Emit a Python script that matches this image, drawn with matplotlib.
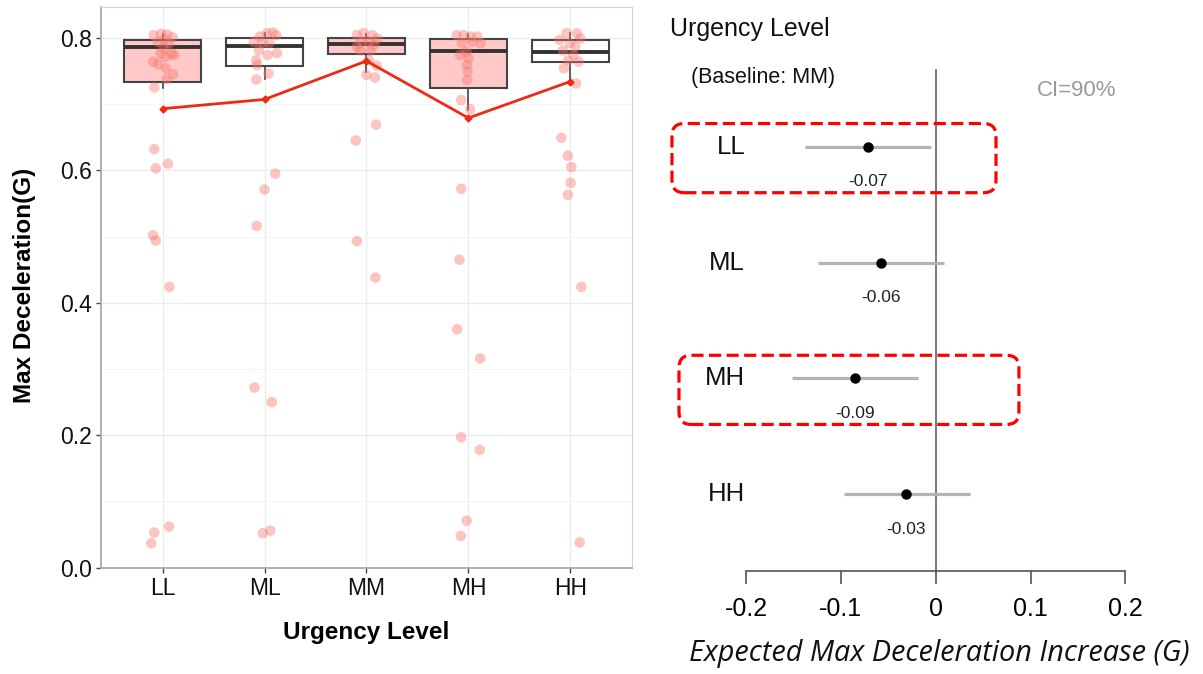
import numpy as np
import matplotlib
matplotlib.use("Agg")
import matplotlib.pyplot as plt
from matplotlib.patches import FancyBboxPatch

plt.rcParams['font.family'] = ['Liberation Sans', 'DejaVu Sans']

# ---- left panel data: max deceleration by urgency level ----
levels = ['LL', 'ML', 'MM', 'MH', 'HH']
q1 = [0.733, 0.758, 0.775, 0.725, 0.764]
med = [0.786, 0.787, 0.791, 0.780, 0.779]
q3 = [0.797, 0.799, 0.799, 0.798, 0.797]
whis_lo = [0.724, 0.738, 0.748, 0.691, 0.734]
whis_hi = [0.806, 0.808, 0.806, 0.806, 0.807]
means = [0.693, 0.707, 0.765, 0.679, 0.734]

ll_vals = [0.804, 0.806, 0.805, 0.801, 0.797, 0.794, 0.792, 0.784, 0.776, 0.774, 0.776, 0.771, 0.764,
           0.760, 0.754, 0.745, 0.738, 0.725, 0.632, 0.603, 0.610, 0.502, 0.494, 0.424, 0.062, 0.053, 0.037]
ll_jit = [-0.088, -0.013, 0.047, 0.098, 0.013, -0.047, 0.064, 0.013, 0.088, 0.115, -0.020, 0.030, -0.094,
          -0.044, 0.030, 0.105, 0.040, -0.081, -0.081, -0.067, 0.054, -0.094, -0.067, 0.067, 0.064, -0.081, -0.111]
ml_vals = [0.808, 0.807, 0.804, 0.802, 0.794, 0.792, 0.792, 0.781, 0.777, 0.774, 0.766, 0.759, 0.746,
           0.737, 0.595, 0.571, 0.516, 0.272, 0.250, 0.056, 0.052]
ml_jit = [0.081, 0.024, 0.115, -0.044, -0.105, -0.020, 0.047, -0.054, 0.122, 0.030, -0.081, -0.071, 0.040,
          -0.081, 0.105, 0.0, -0.078, -0.098, 0.071, 0.057, -0.017]
mm_vals = [0.807, 0.804, 0.804, 0.799, 0.794, 0.794, 0.789, 0.787, 0.781, 0.781, 0.766, 0.758, 0.744,
           0.740, 0.669, 0.645, 0.493, 0.438]
mm_jit = [-0.027, -0.094, 0.057, 0.108, -0.044, 0.024, 0.074, -0.094, -0.061, 0.040, 0.024, 0.101, 0.0,
          0.084, 0.095, -0.105, -0.094, 0.088]
mh_vals = [0.804, 0.804, 0.802, 0.802, 0.794, 0.792, 0.792, 0.779, 0.774, 0.769, 0.759, 0.749, 0.736,
           0.706, 0.692, 0.572, 0.465, 0.360, 0.316, 0.197, 0.178, 0.071, 0.048]
mh_jit = [-0.115, -0.047, 0.020, 0.088, 0.037, -0.064, 0.122, -0.020, -0.081, 0.003, -0.013, -0.007, -0.013,
          -0.071, 0.017, -0.070, -0.088, -0.111, 0.115, -0.071, 0.111, -0.017, -0.074]
hh_vals = [0.807, 0.807, 0.799, 0.797, 0.792, 0.787, 0.781, 0.774, 0.766, 0.764, 0.754, 0.731, 0.649,
           0.622, 0.605, 0.581, 0.563, 0.424, 0.038]
hh_jit = [-0.037, 0.064, 0.098, -0.105, -0.003, 0.047, -0.071, 0.030, -0.020, 0.081, -0.064, 0.057, -0.088,
          -0.024, 0.010, 0.003, -0.024, 0.108, 0.091]

# ---- right panel data: estimated effect vs baseline MM ----
contrast = ['LL', 'ML', 'MH', 'HH']
est = [-0.0716, -0.058, -0.085, -0.031]
ci_lo = [-0.138, -0.124, -0.152, -0.097]
ci_hi = [-0.005, 0.009, -0.019, 0.036]
est_labels = ['-0.07', '-0.06', '-0.09', '-0.03']
highlighted = ['LL', 'MH']

W, H = 1203, 674
fig = plt.figure(figsize=(W / 100, H / 100), dpi=100)

# ================= left: box + jitter =================
ax = fig.add_axes([101.4 / W, (H - 567.7) / H, 530.1 / W, (567.7 - 6.7) / H])
pos = np.arange(1, len(levels) + 1)
stats = [dict(med=m, q1=a, q3=b, whislo=lo, whishi=hi)
         for m, a, b, lo, hi in zip(med, q1, q3, whis_lo, whis_hi)]
bp = ax.bxp(stats, positions=pos, widths=0.75, patch_artist=True,
            showfliers=False, showcaps=False,
            boxprops=dict(edgecolor='#444444', linewidth=1.5),
            medianprops=dict(color='#333333', linewidth=2.8),
            whiskerprops=dict(color='#444444', linewidth=1.2))
fills = ['#FFC9C9', 'white', '#FFC9C9', '#FFC9C9', 'white']
for patch, c in zip(bp['boxes'], fills):
    patch.set_facecolor(c)
    patch.set_zorder(2)

groups = [(ll_vals, ll_jit), (ml_vals, ml_jit), (mm_vals, mm_jit), (mh_vals, mh_jit), (hh_vals, hh_jit)]
for i, (vals, jit) in enumerate(groups):
    ax.scatter(pos[i] + np.array(jit), vals, s=58, color='#F8766D', alpha=0.42,
               edgecolors='none', zorder=3)

ax.plot(pos, means, color='#EE2A14', linewidth=2, marker='D', markersize=3.5, zorder=4)

ax.set_xlim(0.4, 5.6)
ax.set_ylim(0, 0.847)
ax.set_xticks(pos)
ax.set_xticklabels(levels)
ax.set_yticks([0, 0.2, 0.4, 0.6, 0.8])
ax.set_yticklabels(['0.0', '0.2', '0.4', '0.6', '0.8'])
ax.set_yticks([0.1, 0.3, 0.5, 0.7], minor=True)
ax.grid(True, which='major', color='#EBEBEB', linewidth=0.9)
ax.grid(True, which='minor', axis='y', color='#F3F3F3', linewidth=0.6)
ax.set_axisbelow(True)
ax.tick_params(axis='both', which='major', length=3.5, width=1, color='#444444',
               labelsize=16.5, labelcolor='#111111', pad=3)
ax.tick_params(axis='y', which='minor', length=0)
for s in ['top', 'right']:
    ax.spines[s].set_color('#D3D3D3')
for s in ['left', 'bottom']:
    ax.spines[s].set_color('#AAAAAA')
    ax.spines[s].set_linewidth(1.3)

fig.text(24.5 / W, 1 - 285 / H, 'Max Deceleration(G)', rotation=90, ha='center', va='center',
         fontsize=17.5, fontweight='bold')
fig.text(366 / W, 1 - 633 / H, 'Urgency Level', ha='center', va='center',
         fontsize=17.5, fontweight='bold')

# ================= right: effect estimates =================
ax2 = fig.add_axes([660 / W, (H - 570.7) / H, (W - 660) / W, 570.7 / H])
ax2.set_xlim((660 - 935.7) / 948, (W - 935.7) / 948)
ax2.set_ylim(0.341, 5.266)
ax2.patch.set_visible(False)
for s in ['top', 'right', 'left']:
    ax2.spines[s].set_visible(False)
ax2.spines['bottom'].set_bounds(-0.2, 0.2)
ax2.spines['bottom'].set_color('#555555')
ax2.spines['bottom'].set_linewidth(1.2)
ax2.set_xticks([-0.2, -0.1, 0, 0.1, 0.2])
ax2.set_xticklabels(['-0.2', '-0.1', '0', '0.1', '0.2'])
ax2.set_yticks([])
ax2.tick_params(axis='x', length=9, width=1.2, color='#555555', labelsize=18, pad=10)

rows = np.arange(len(contrast))[::-1] + 1
ax2.plot([0, 0], [0.341, 4.662], color='#555555', linewidth=1.1, zorder=1)
ax2.hlines(rows, ci_lo, ci_hi, color='#B3B3B3', linewidth=2.3, zorder=2)
ax2.plot(est, rows, 'o', color='black', markersize=6.5, zorder=3)
for r, e, lab, name in zip(rows, est, est_labels, contrast):
    ax2.text(e, r - 0.30, lab, ha='center', va='center', fontsize=12.5, color='#222222')
    ax2.text(-0.2009, r, name, ha='right', va='center', fontsize=18.5, color='#111111',
             clip_on=False)

ax2.text(-0.28, 5.014, 'Urgency Level', ha='left', va='center', fontsize=18, color='#111111')
ax2.text(-0.258, 4.599, '(Baseline: MM)', ha='left', va='center', fontsize=15.5, color='#111111')
ax2.text(0.1069, 4.489, 'CI=90%', ha='left', va='center', fontsize=16, color='#999999')

# red dashed rounded boxes around the significant contrasts
aspect = 948 / 115.9
for name in highlighted:
    r = rows[contrast.index(name)]
    x0 = -0.2782 if name == 'LL' else -0.2708
    x1 = 0.0636 if name == 'LL' else 0.0878
    y0, y1 = r - 0.397, r + 0.200
    box = FancyBboxPatch((x0, y0), x1 - x0, y1 - y0,
                         boxstyle='round,pad=0,rounding_size=0.013',
                         mutation_aspect=aspect, fill=False, edgecolor='#FF0000',
                         linewidth=2.3, linestyle=(0, (3.8, 1.7)), clip_on=False, zorder=5)
    ax2.add_patch(box)

ax2.text(0.0035, -0.372, 'Expected Max Deceleration Increase (G)', ha='center', va='center',
         fontsize=20.8, style='italic', family=['Open Sans', 'DejaVu Sans'], color='#111111')

fig.savefig('out.png', dpi=100)
